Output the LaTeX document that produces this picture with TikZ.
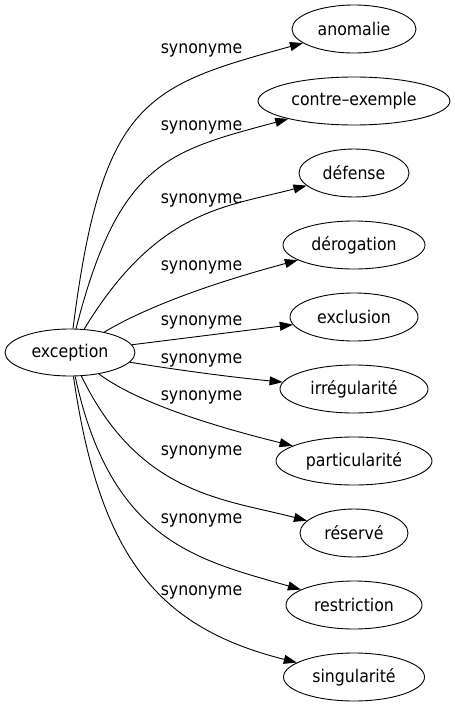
\documentclass[tikz,border=0pt]{standalone}
\usepackage{fontspec}
\setmainfont{DejaVu Sans Condensed}
\usetikzlibrary{shapes.geometric,arrows.meta}
\begin{document}
\begin{tikzpicture}[x=1pt,y=-1pt,
  word/.style={draw, ellipse, inner sep=0pt, minimum height=48pt,
    font=\fontsize{17.5}{20}\selectfont, line width=0.9pt},
  lbl/.style={font=\fontsize{17.5}{20}\selectfont, inner sep=0pt},
  syn/.style={-{Triangle[length=13pt,width=9pt]}, line width=0.9pt}]
\useasboundingbox (0,0) rectangle (455,707);
% nodes
\node[word, minimum width=130pt, minimum height=47pt] (ex) at (70,352.5) {exception};
\node[word, minimum width=124pt] (n1) at (354,29) {anomalie};
\node[word, minimum width=192pt] (n2) at (354,101) {contre–exemple};
\node[word, minimum width=110pt] (n3) at (354,173) {défense};
\node[word, minimum width=142pt] (n4) at (354,245) {dérogation};
\node[word, minimum width=128pt] (n5) at (354,317) {exclusion};
\node[word, minimum width=148pt] (n6) at (354,389) {irrégularité};
\node[word, minimum width=156pt] (n7) at (354,461) {particularité};
\node[word, minimum width=108pt] (n8) at (354,533) {réservé};
\node[word, minimum width=136pt] (n9) at (354,605) {restriction};
\node[word, minimum width=141pt] (n10) at (354,677) {singularité};
% labels
\node[lbl] (l1) at (201.5,50) {synonyme};
\node[lbl] (l2) at (201.5,127) {synonyme};
\node[lbl] (l3) at (201.5,200) {synonyme};
\node[lbl] (l4) at (201.5,267) {synonyme};
\node[lbl] (l5) at (201.5,322) {synonyme};
\node[lbl] (l6) at (201.5,360) {synonyme};
\node[lbl] (l7) at (201.5,397) {synonyme};
\node[lbl] (l8) at (201.5,452) {synonyme};
\node[lbl] (l9) at (201.5,520) {synonyme};
\node[lbl] (l10) at (201.5,592) {synonyme};
% edges
\draw[syn] (ex) .. controls (102,99) and (147,86) .. (n1);
\draw[syn] (ex) .. controls (119,160) and (170,151) .. (n2);
\draw[syn] (ex) .. controls (157,209) and (226,207) .. (n3);
\draw[syn] (ex) .. controls (158,300) and (239,276) .. (n4);
\draw[syn] (ex) -- (n5);
\draw[syn] (ex) .. controls (190,372) and (240,378) .. (n6);
\draw[syn] (ex) .. controls (142,406) and (229,430) .. (n7);
\draw[syn] (ex) .. controls (139,495) and (224,499) .. (n8);
\draw[syn] (ex) .. controls (111,543) and (199,560) .. (n9);
\draw[syn] (ex) .. controls (100,560) and (160,628) .. (n10);
\end{tikzpicture}
\end{document}
